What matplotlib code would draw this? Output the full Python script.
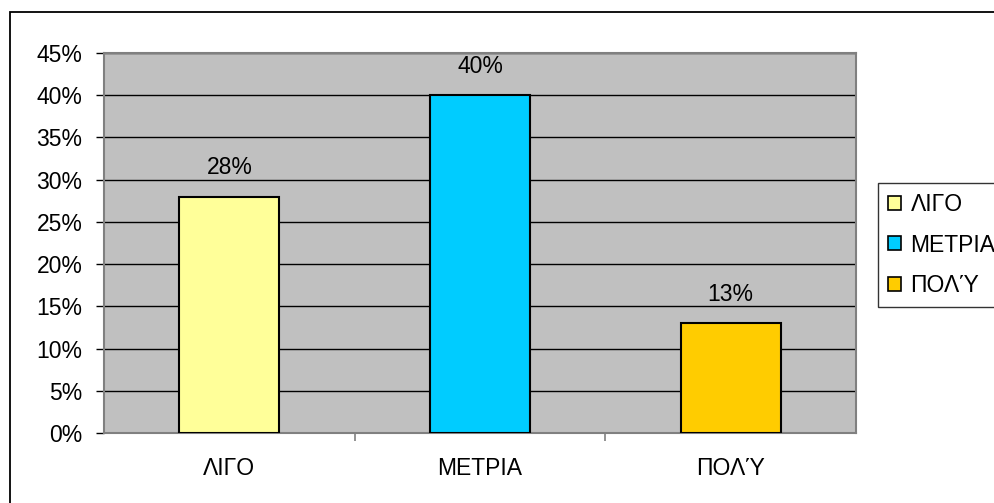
import matplotlib
matplotlib.use("Agg")
import matplotlib.pyplot as plt
from matplotlib.patches import Rectangle, Patch
from matplotlib.ticker import FuncFormatter, MultipleLocator

categories = ["ΛΙΓΟ", "ΜΕΤΡΙΑ", "ΠΟΛΎ"]
values = [28, 40, 13]
colors = ["#FFFF99", "#00CCFF", "#FFCC00"]

plt.rcParams["font.family"] = ["Liberation Sans", "DejaVu Sans"]
FS = 16.5

W, H = 995, 503
fig = plt.figure(figsize=(W / 100, H / 100), dpi=100)

# outer chart frame (runs off the right and bottom edges)
fig.patches.append(Rectangle((10 / W, -0.1), 1.2, (H - 11.5) / H + 0.1,
                             transform=fig.transFigure, fill=False,
                             edgecolor="black", linewidth=1.3))

left, right, top, bottom = 104, 856, 53, 433
ax = fig.add_axes([left / W, (H - bottom) / H, (right - left) / W, (bottom - top) / H])
ax.set_facecolor("#C0C0C0")
for s in ax.spines.values():
    s.set_color("#808080")
    s.set_linewidth(1.5)

x = range(len(categories))
ax.bar(x, values, width=0.4, color=colors, edgecolor="black", linewidth=1.5, zorder=3)
ax.set_xlim(-0.5, 2.5)
ax.set_ylim(0, 45)
ax.yaxis.set_major_locator(MultipleLocator(5))
ax.yaxis.set_major_formatter(FuncFormatter(lambda v, p: f"{v:.0f}%"))
ax.grid(axis="y", color="black", linewidth=1.0, zorder=1)
ax.set_axisbelow(True)

ax.set_xticks([0.5, 1.5])
ax.set_xticklabels([])
for i, c in enumerate(categories):
    ax.text(i, -4.15, c, ha="center", va="center", fontsize=FS)
ax.tick_params(axis="x", length=6, color="#808080", width=1.2)
ax.tick_params(axis="y", length=6, color="black", width=1.0, labelsize=FS, pad=9.5)

for i, v in enumerate(values):
    ax.text(i, v + 3.4, f"{v}%", ha="center", va="center", fontsize=FS)

handles = [Patch(facecolor=c, edgecolor="black", linewidth=1.2) for c in colors]
leg = fig.legend(handles, categories, loc="upper left",
                 bbox_to_anchor=(878 / W, (H - 183) / H),
                 fontsize=FS, frameon=True, fancybox=False,
                 handlelength=0.57, handleheight=0.57, handletextpad=0.4,
                 labelspacing=0.75, borderpad=0.45, borderaxespad=0)
leg.get_frame().set_edgecolor("black")
leg.get_frame().set_linewidth(1.0)

fig.savefig("out.png", dpi=100)
